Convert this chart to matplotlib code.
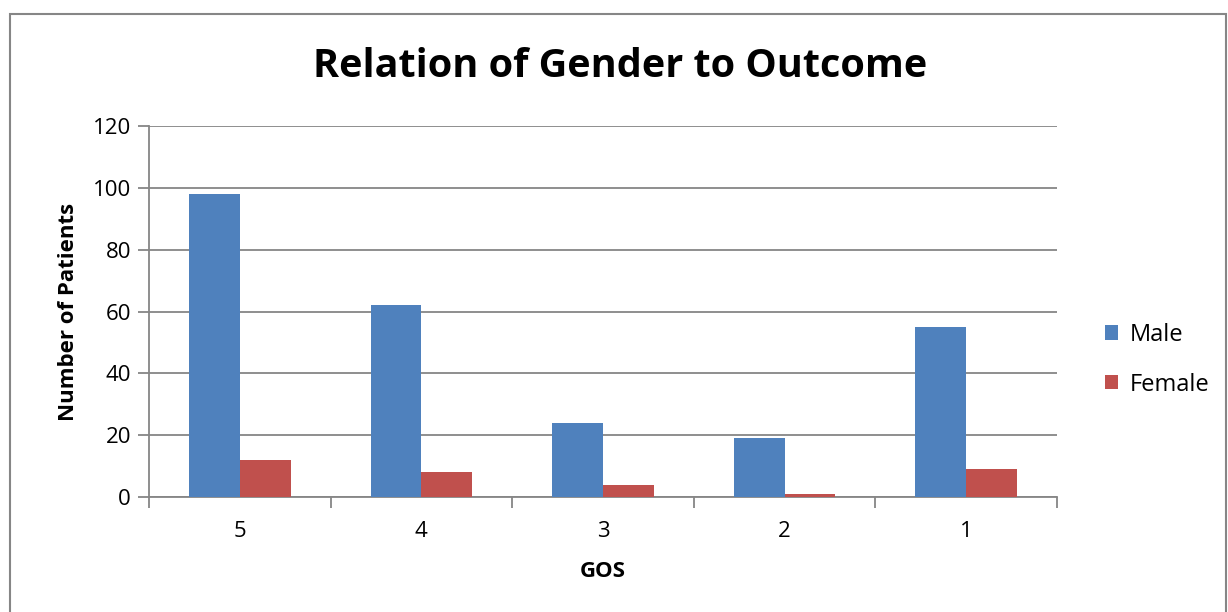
import matplotlib
matplotlib.use("Agg")
import matplotlib.pyplot as plt
from matplotlib.patches import Rectangle
import numpy as np

plt.rcParams["font.family"] = ["Open Sans", "DejaVu Sans"]

gos_labels = ["5", "4", "3", "2", "1"]
male = [98, 62, 24, 19, 55]
female = [12, 8, 4, 1, 9]

COLOR_MALE = "#4f81bd"
COLOR_FEMALE = "#c0504d"
COLOR_GRID = "#868686"

fig = plt.figure(figsize=(12.28, 6.12), dpi=100)
ax = fig.add_axes([0.1213, 0.1879, 0.8607 - 0.1213, 0.7941 - 0.1879])

# chart border around the whole figure
fig.patches.append(Rectangle((10 / 1228, -0.02), 1216 / 1228, 0.02 + 598 / 612,
                             transform=fig.transFigure, fill=False,
                             edgecolor=COLOR_GRID, linewidth=1.5))

x = np.arange(len(gos_labels))
width = 0.28
ax.bar(x - width / 2, male, width, color=COLOR_MALE, label="Male", zorder=3)
ax.bar(x + width / 2, female, width, color=COLOR_FEMALE, label="Female", zorder=3)

ax.set_xlim(-0.5, len(gos_labels) - 0.5)
ax.set_ylim(0, 120)
ax.set_yticks(range(0, 121, 20))
ax.yaxis.grid(True, color=COLOR_GRID, linewidth=1.3, zorder=0)
ax.set_axisbelow(True)

ax.set_xticks(x, gos_labels)
ax.set_xticks(np.arange(-0.5, len(gos_labels)), minor=True)
ax.tick_params(axis="x", which="major", length=0, labelsize=16, pad=17)
ax.tick_params(axis="x", which="minor", length=8, width=1.3, color=COLOR_GRID)
ax.tick_params(axis="y", length=8, width=1.3, color=COLOR_GRID, labelsize=16, pad=5)

for side in ("top", "right"):
    ax.spines[side].set_visible(False)
for side in ("left", "bottom"):
    ax.spines[side].set_color(COLOR_GRID)
    ax.spines[side].set_linewidth(1.3)

ax.set_xlabel("GOS", fontsize=16, fontweight="bold", labelpad=14)
ax.set_ylabel("Number of Patients", fontsize=16, fontweight="bold", labelpad=10)
fig.text(0.505, 0.892, "Relation of Gender to Outcome", ha="center", va="center",
         fontsize=28.5, fontweight="bold")

ax.legend(loc="center left", bbox_to_anchor=(1.03, 0.37), frameon=False,
          fontsize=17, handlelength=0.55, handleheight=0.55, handletextpad=0.5,
          labelspacing=1.1)

fig.savefig("out.png", dpi=100)
